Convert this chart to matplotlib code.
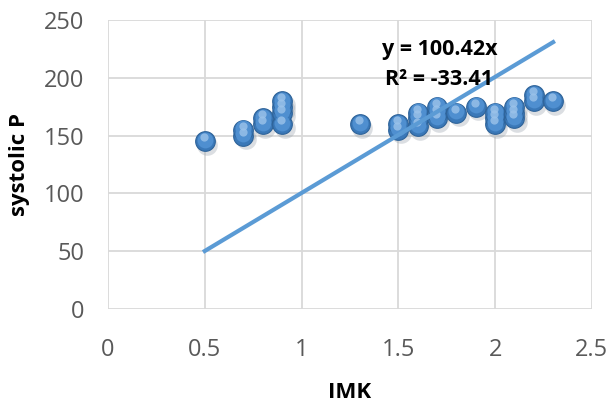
import numpy as np
import matplotlib.pyplot as plt

# IMK vs systolic pressure
imk = [0.5, 0.7, 0.7, 0.8, 0.8, 0.9, 0.9, 0.9, 0.9, 1.3,
       1.5, 1.5, 1.6, 1.6, 1.6, 1.7, 1.7, 1.7, 1.8, 1.9,
       2.0, 2.0, 2.0, 2.1, 2.1, 2.1, 2.2, 2.2, 2.3]
systolic = [145, 150, 155, 160, 165, 160, 170, 175, 180, 160,
            155, 160, 158, 165, 170, 165, 170, 175, 170, 175,
            160, 165, 170, 165, 170, 175, 180, 185, 180]

slope = 100.42
trend_x = [0.5, 2.3]
eq_line1 = "y = 100.42x"
eq_line2 = "R² = -33.41"

plt.rcParams['font.family'] = ['Open Sans', 'DejaVu Sans']

fig = plt.figure(figsize=(6.14, 4.08), dpi=100)
ax = fig.add_axes([0.1759, 0.2426, 0.788, 0.708])

ax.set_xlim(0, 2.5)
ax.set_ylim(0, 250)
ax.set_xticks(np.arange(0, 2.51, 0.5))
ax.set_yticks(np.arange(0, 251, 50))
ax.set_xticklabels(['0', '0.5', '1', '1.5', '2', '2.5'])
ax.grid(True, color='#d9d9d9', linewidth=1.3)
ax.set_axisbelow(True)
for s in ax.spines.values():
    s.set_visible(False)
ax.tick_params(length=0, labelsize=17, colors='#595959')
ax.tick_params(axis='y', pad=17)
ax.tick_params(axis='x', pad=21)

# bubble-ish markers: shadow, body, highlight
x = np.array(imk)
y = np.array(systolic)
ax.scatter(x + 0.012, y - 3, s=220, color='#9aa3ad', alpha=0.35, linewidths=0, zorder=2)
ax.scatter(x, y, s=200, color='#3a78b8', edgecolors='#2e6399', linewidths=0.8, zorder=3)
ax.scatter(x, y + 1.3, s=130, color='#4f8fd0', linewidths=0, zorder=4)
ax.scatter(x - 0.005, y + 3.5, s=35, color='#9cc3ea', alpha=0.8, linewidths=0, zorder=5)

tx = np.array(trend_x)
ax.plot(tx, slope * tx, color='#5b9bd5', linewidth=3, zorder=6)

ax.text(1.415, 225, eq_line1, fontsize=15.5, fontweight='bold', ha='left', va='center',
        color='black', zorder=7)
ax.text(1.43, 199, eq_line2, fontsize=15.5, fontweight='bold', ha='left', va='center',
        color='black', zorder=7)

fig.text(350 / 614, 1 - 393 / 408, 'IMK', fontsize=16, fontweight='bold',
         ha='center', va='center')
fig.text(20 / 614, 1 - 165 / 408, 'systolic P', fontsize=16, fontweight='bold',
         ha='center', va='center', rotation=90)

fig.savefig('out.png', dpi=100)
